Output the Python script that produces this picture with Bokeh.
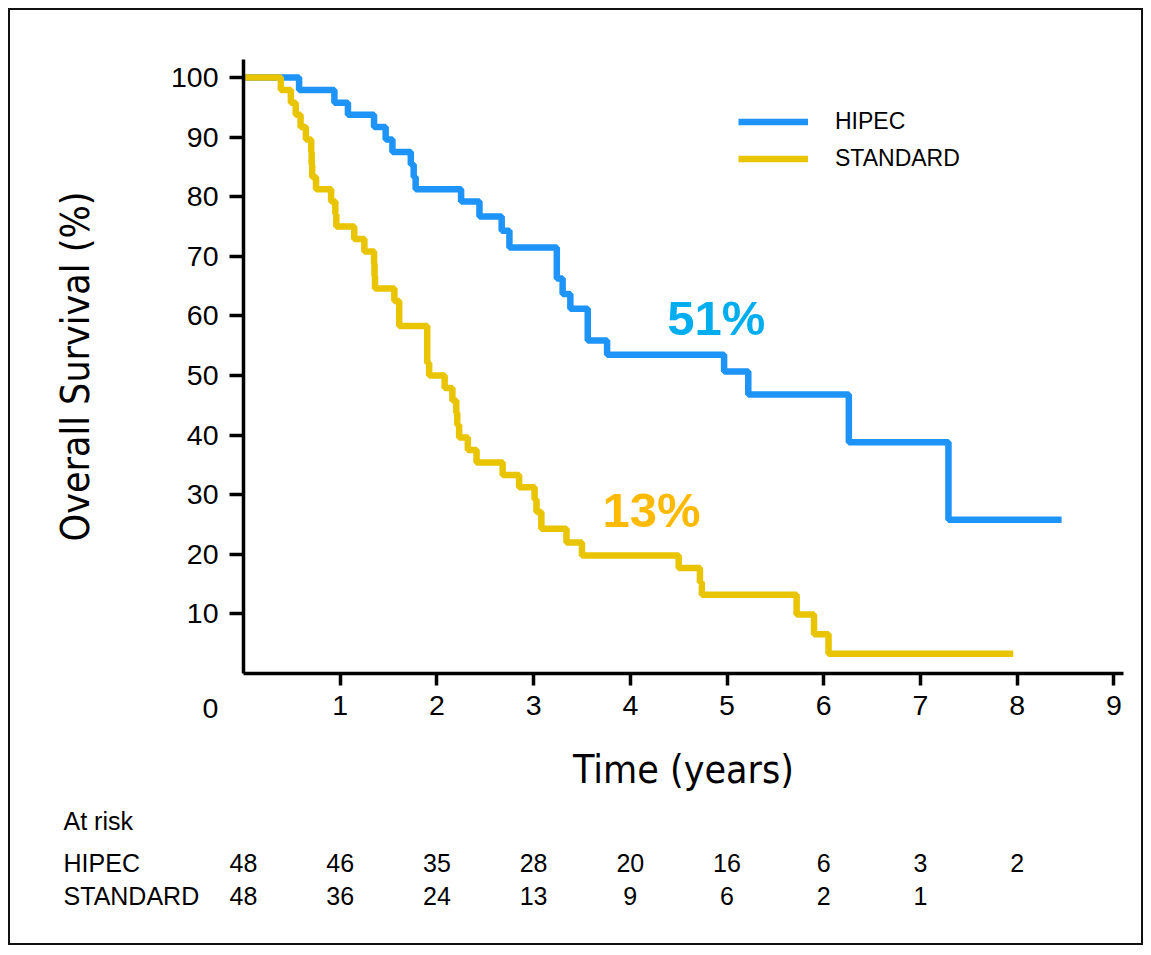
from bokeh.plotting import figure
from bokeh.models import Range1d, FixedTicker, Legend, LegendItem
from bokeh.core.properties import value
from bokeh.embed import file_html
from bokeh.resources import INLINE

# ---- data ----
hipec_t = [0, 0.575, 0.94, 1.08, 1.35, 1.47, 1.54, 1.73, 1.76, 1.78, 2.25, 2.44, 2.67, 2.75,
           3.24, 3.30, 3.38, 3.56, 3.76, 4.97, 5.22, 6.26, 7.29, 8.46]
hipec_s = [100, 97.9, 95.8, 93.75, 91.7, 89.6, 87.5, 85.4, 83.3, 81.25, 79.2, 76.7, 74.3, 71.5,
           66.3, 63.7, 61.2, 55.9, 53.5, 50.7, 46.8, 38.8, 25.8, 25.8]

standard_t = [0, 0.386, 0.49, 0.54, 0.59, 0.645, 0.70, 0.705, 0.71, 0.75, 0.906, 0.95, 0.96,
              1.145, 1.25, 1.35, 1.355, 1.36, 1.56, 1.61, 1.90, 1.92, 2.08, 2.16, 2.20, 2.21,
              2.23, 2.32, 2.41, 2.68, 2.85, 3.01, 3.03, 3.08, 3.34, 3.50, 4.50, 4.72, 4.74,
              5.72, 5.90, 6.05, 7.96]
standard_s = [100, 97.9, 95.8, 93.75, 91.7, 89.6, 87.5, 85.4, 83.3, 81.25, 79.2, 77.1, 75.0,
              72.9, 70.8, 68.75, 66.7, 64.6, 62.5, 58.3, 52.1, 50.0, 47.9, 45.8, 43.75, 41.7,
              39.6, 37.5, 35.4, 33.3, 31.25, 29.2, 27.1, 24.3, 22.0, 19.8, 17.7, 15.3, 13.2,
              9.9, 6.6, 3.3, 3.3]

risk_times_hipec = [0, 1, 2, 3, 4, 5, 6, 7, 8]
risk_hipec = [48, 46, 35, 28, 20, 16, 6, 3, 2]
risk_times_standard = [0, 1, 2, 3, 4, 5, 6, 7]
risk_standard = [48, 36, 24, 13, 9, 6, 2, 1]
risk_rows = ["At risk", "HIPEC", "STANDARD"]

x_ticks = [1, 2, 3, 4, 5, 6, 7, 8, 9]
y_ticks = [10, 20, 30, 40, 50, 60, 70, 80, 90, 100]

BLUE = "#1E94F8"
YELLOW = "#E9C400"
COND = "DejaVu Sans Condensed"
SANS = "Liberation Sans"

p = figure(width=1135, height=937,
           x_range=Range1d(-2.4095, 9.3278), y_range=Range1d(-45.98, 111.26),
           output_backend="svg", toolbar_location=None,
           min_border_left=0, min_border_right=0, min_border_top=0, min_border_bottom=0)
p.styles = {"border": "2.5px solid #111", "margin-left": "8px", "margin-top": "8px"}
p.outline_line_color = None
p.xgrid.visible = False
p.ygrid.visible = False

r1 = p.step(hipec_t, hipec_s, mode="after", line_width=6.5, color=BLUE)
r2 = p.step(standard_t, standard_s, mode="after", line_width=6.5, color=YELLOW)

xa = p.xaxis[0]
ya = p.yaxis[0]
xa.fixed_location = 0
ya.fixed_location = 0
xa.bounds = (0, 9.1)
ya.bounds = (0, 103)
for ax in (xa, ya):
    ax.axis_line_width = 3.5
    ax.axis_line_color = "black"
    ax.major_tick_line_width = 3.5
    ax.major_tick_line_color = "black"
    ax.major_tick_in = 0
    ax.minor_tick_line_color = None
    ax.major_label_text_font = SANS
    ax.major_label_text_font_size = "28.5px"
    ax.major_label_text_color = "black"
    ax.axis_label_text_font = COND
    ax.axis_label_text_font_size = "39px"
    ax.axis_label_text_font_style = "normal"
    ax.axis_label_text_color = "black"

xa.major_tick_out = 12
ya.major_tick_out = 14
xa.ticker = FixedTicker(ticks=x_ticks)
ya.ticker = FixedTicker(ticks=y_ticks)
xa.axis_label = "Time (years)"
ya.axis_label = "Overall Survival (%)"
xa.major_label_standoff = 10
ya.major_label_standoff = 11
xa.axis_label_standoff = 29
ya.axis_label_standoff = 70

# origin "0"
p.text(x=[-0.341], y=[-5.87], text=["0"], text_font=value(SANS), text_font_size="28.5px",
       text_align="center", text_baseline="middle", text_color="black")

# percentages
p.text(x=[4.89], y=[59.7], text=["51%"], text_font=value(SANS), text_font_size="49px",
       text_font_style="bold", text_color="#00AEEF", text_align="center", text_baseline="middle")
p.text(x=[4.22], y=[27.4], text=["13%"], text_font=value(SANS), text_font_size="49px",
       text_font_style="bold", text_color="#FDBA00", text_align="center", text_baseline="middle")

# legend
legend = Legend(items=[LegendItem(label="HIPEC", renderers=[r1]),
                       LegendItem(label="STANDARD", renderers=[r2])],
                location=(728, 770), padding=0, margin=0, spacing=0,
                glyph_width=70, glyph_height=37, label_height=37, label_standoff=27,
                border_line_color=None, background_fill_alpha=0,
                label_text_font=SANS, label_text_font_size="23px", label_text_color="black")
p.add_layout(legend)

# at-risk table
p.text(x=[-1.861] * 3, y=[-24.67, -31.8, -37.42], text=risk_rows, text_font=value(SANS),
       text_font_size="25px", text_align="left", text_baseline="middle", text_color="black")
p.text(x=risk_times_hipec, y=[-31.8] * len(risk_hipec), text=[str(v) for v in risk_hipec],
       text_font=value(SANS), text_font_size="25px", text_align="center",
       text_baseline="middle", text_color="black")
p.text(x=risk_times_standard, y=[-37.42] * len(risk_standard),
       text=[str(v) for v in risk_standard], text_font=value(SANS), text_font_size="25px",
       text_align="center", text_baseline="middle", text_color="black")

open("out.html", "w").write(file_html(p, INLINE))
